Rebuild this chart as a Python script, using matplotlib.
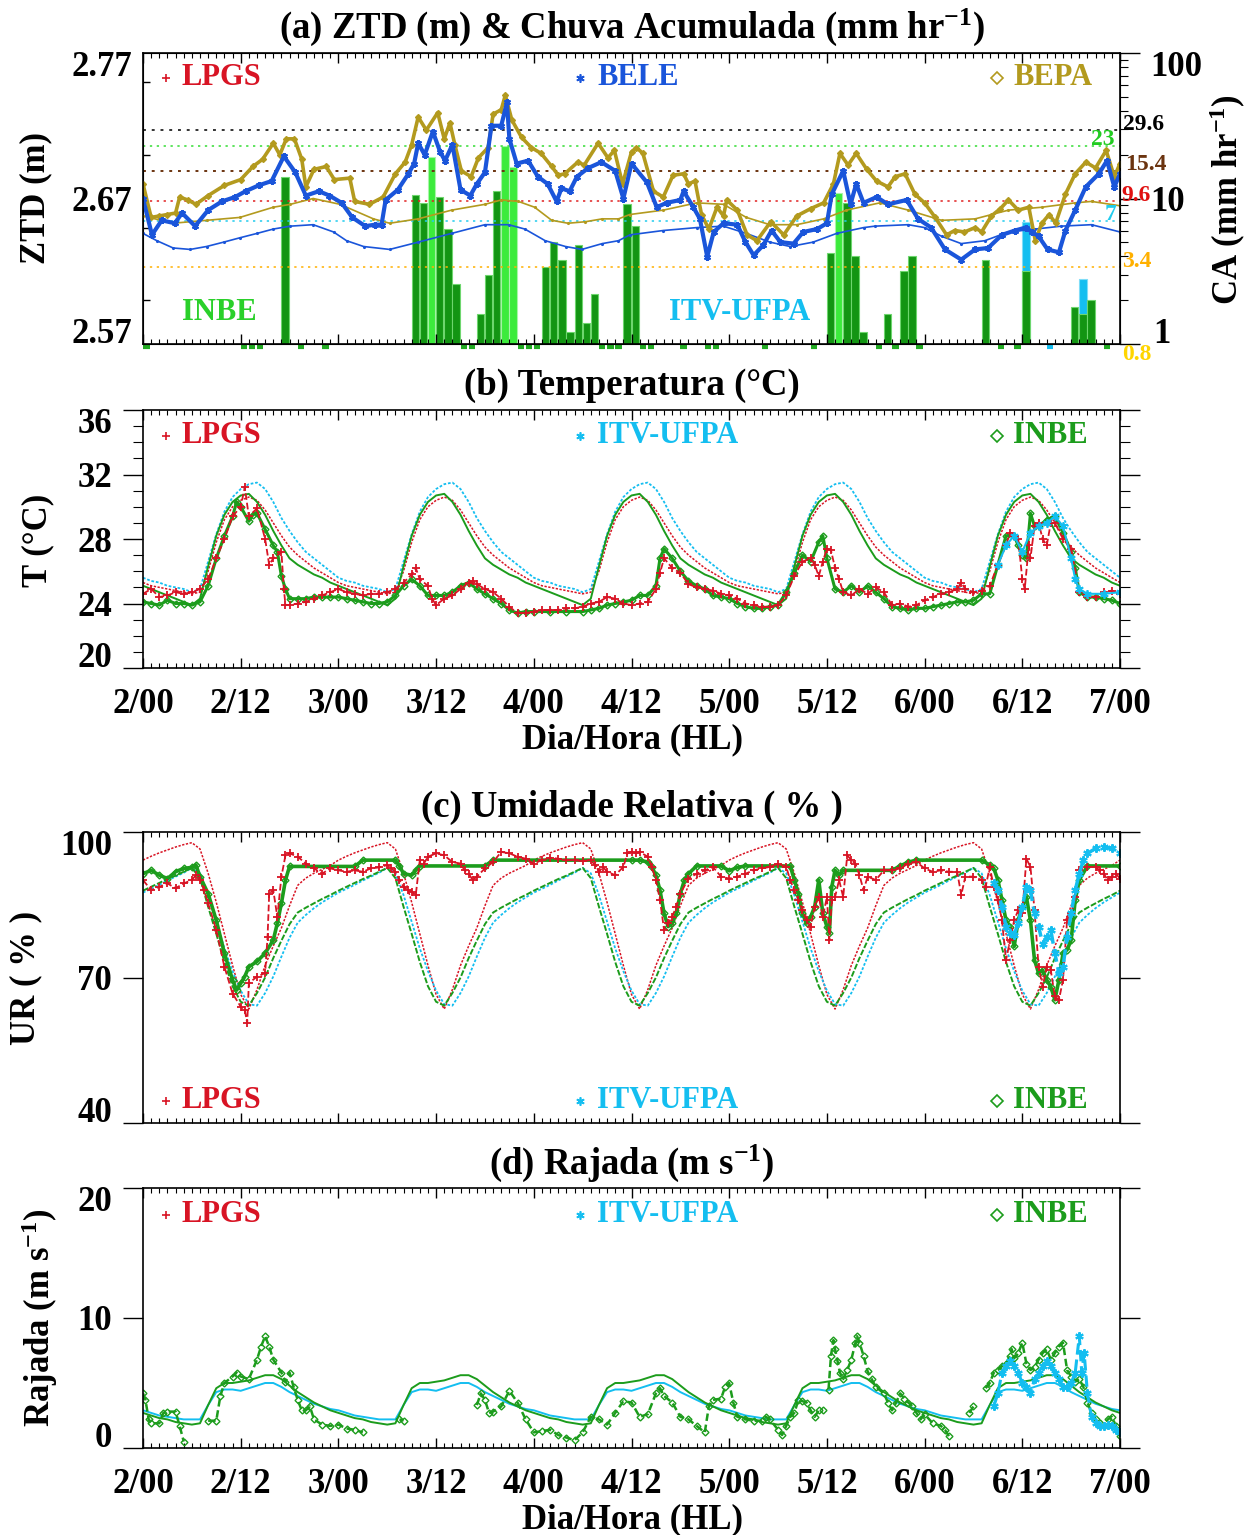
import numpy as np
import matplotlib
matplotlib.use('Agg')
import matplotlib.pyplot as plt
import matplotlib.transforms as mtransforms
from matplotlib.lines import Line2D
from matplotlib.ticker import MultipleLocator, FixedLocator, NullFormatter, LogLocator

plt.rcParams['font.family'] = ['Liberation Serif', 'DejaVu Serif']
plt.rcParams['font.weight'] = 'bold'
plt.rcParams['mathtext.fontset'] = 'custom'
plt.rcParams['mathtext.rm'] = 'Liberation Serif:bold'
plt.rcParams['mathtext.it'] = 'Liberation Serif:bold'
plt.rcParams['mathtext.bf'] = 'Liberation Serif:bold'
plt.rcParams['mathtext.default'] = 'rm'

# ---------------- dados ----------------
x_ticks = [0, 12, 24, 36, 48, 60, 72, 84, 96, 108, 120]
x_labels = ['2/00', '2/12', '3/00', '3/12', '4/00', '4/12', '5/00', '5/12', '6/00', '6/12', '7/00']

# (a) ZTD (m), horas desde 2/00
bepa_h = [0, 1, 2, 3, 4, 4.5, 5.5, 6.5, 8, 10, 12, 13.5, 14.7, 16, 16.8, 17.6, 18.6, 19.5, 20, 21, 22.5,
          23.5, 25.4, 26, 27.8, 29.5, 31, 32.2, 33, 33.8, 34.8, 36.2, 37, 37.7, 38.3, 39.1, 40.3, 41.2,
          42.4, 43, 44, 44.5, 45.3, 46.5, 47.7, 48.9, 50.2, 51, 51.8, 53.4, 54.2, 55.9, 57.1, 57.9, 58.9,
          60, 60.6, 61.4, 62.7, 63.9, 65.1, 66.4, 67, 67.8, 68.6, 69.5, 70.5, 71.3, 71.7, 73, 74.2, 75.4,
          77.1, 78.7, 80.3, 82, 83.6, 84.8, 85.6, 86.6, 87.6, 88.9, 90.1, 91.5, 92.4, 93.6, 94.8, 96,
          97.3, 98.7, 99.7, 100.9, 102.2, 103, 104.2, 105.3, 106.3, 107.5, 108.8, 109.6, 110.4, 111.3,
          112.1, 113.3, 114.5, 115.8, 117, 118.3, 119.3, 120]
bepa_ztd = [2.680, 2.657, 2.658, 2.659, 2.660, 2.671, 2.669, 2.666, 2.672, 2.679, 2.683, 2.692, 2.697,
            2.708, 2.700, 2.711, 2.711, 2.697, 2.678, 2.690, 2.692, 2.683, 2.684, 2.668, 2.666, 2.671,
            2.687, 2.695, 2.707, 2.726, 2.717, 2.729, 2.711, 2.722, 2.707, 2.689, 2.685, 2.698, 2.705,
            2.728, 2.731, 2.741, 2.724, 2.712, 2.705, 2.701, 2.692, 2.686, 2.687, 2.695, 2.693, 2.708,
            2.698, 2.703, 2.680, 2.702, 2.705, 2.701, 2.675, 2.671, 2.686, 2.687, 2.680, 2.682, 2.659,
            2.649, 2.664, 2.658, 2.669, 2.662, 2.645, 2.641, 2.654, 2.645, 2.658, 2.663, 2.667, 2.680,
            2.701, 2.693, 2.701, 2.690, 2.682, 2.678, 2.685, 2.687, 2.673, 2.667, 2.657, 2.645, 2.648,
            2.647, 2.650, 2.647, 2.658, 2.663, 2.669, 2.662, 2.664, 2.641, 2.653, 2.659, 2.653, 2.673,
            2.687, 2.695, 2.691, 2.703, 2.685, 2.694]

bele_h = [0, 1.1, 2.3, 3.9, 4.8, 6.4, 8, 9.7, 11.3, 12.6, 14.2, 15.8, 17.3, 18.7, 20, 21.6, 22.9, 24.4,
          25.7, 27.3, 28.5, 29.3, 29.8, 31.3, 32.6, 33.3, 33.8, 34.6, 35.6, 36.5, 37.1, 38, 39, 40.2, 41,
          42, 42.8, 44, 44.7, 45, 45.9, 47.3, 48.5, 49.7, 50.8, 51.4, 52.4, 53.3, 54.7, 56.3, 58, 59, 60,
          61.9, 63.1, 64.3, 66, 66.4, 67.6, 68.4, 69.3, 70.1, 71.3, 73, 74, 75, 76.2, 77.2, 78.3, 79.9,
          81.1, 82.8, 84, 84.6, 86, 86.9, 87.6, 88.5, 90.1, 91.5, 93.8, 95.2, 96.8, 98.5, 100.5, 102.2,
          103.8, 105.5, 107.1, 108.4, 109.2, 110, 111.1, 112.5, 113.3, 114.5, 115.8, 117.4, 118.4, 119.3, 120]
bele_ztd = [2.670, 2.645, 2.655, 2.653, 2.660, 2.651, 2.662, 2.668, 2.671, 2.675, 2.679, 2.682, 2.699,
            2.688, 2.672, 2.675, 2.672, 2.667, 2.657, 2.651, 2.652, 2.652, 2.669, 2.676, 2.687, 2.694,
            2.708, 2.700, 2.716, 2.702, 2.696, 2.707, 2.676, 2.672, 2.680, 2.688, 2.720, 2.720, 2.736,
            2.711, 2.694, 2.696, 2.685, 2.680, 2.668, 2.677, 2.675, 2.685, 2.691, 2.695, 2.689, 2.670,
            2.694, 2.681, 2.664, 2.667, 2.669, 2.675, 2.664, 2.656, 2.630, 2.647, 2.653, 2.652, 2.640,
            2.631, 2.638, 2.648, 2.640, 2.639, 2.647, 2.649, 2.653, 2.673, 2.689, 2.666, 2.680, 2.667,
            2.671, 2.666, 2.669, 2.656, 2.650, 2.635, 2.628, 2.635, 2.636, 2.645, 2.648, 2.650, 2.647,
            2.644, 2.635, 2.633, 2.648, 2.662, 2.678, 2.687, 2.696, 2.678, 2.687]

bepa_thin_h = [0, 3.7, 7.8, 11.9, 16, 18.1, 20.9, 24.2, 28.3, 30.3, 33.8, 37.9, 42, 44, 46.1, 48.1, 50.2,
               52.2, 54.3, 56.4, 58.4, 59.8, 63.9, 68, 71.3, 74.1, 77, 80.3, 83.6, 86.4, 90.5, 94, 98.1,
               102.2, 106.3, 110.4, 114.5, 116.5, 120]
bepa_thin = [2.658, 2.653, 2.655, 2.657, 2.664, 2.666, 2.670, 2.666, 2.656, 2.653, 2.656, 2.662, 2.666,
             2.669, 2.668, 2.664, 2.655, 2.653, 2.654, 2.656, 2.656, 2.659, 2.662, 2.667, 2.666, 2.657,
             2.652, 2.652, 2.656, 2.662, 2.667, 2.662, 2.655, 2.656, 2.662, 2.664, 2.667, 2.668, 2.665]

bele_thin_h = [0, 1.7, 3.7, 5.8, 7.8, 9.9, 11.9, 14, 16, 18.1, 20.9, 23.4, 25, 27.1, 30.3, 33.8, 37.9, 42,
               44.9, 46.9, 49.4, 51.9, 53.9, 56.4, 58.4, 59.8, 63.9, 68, 71.3, 74.1, 77, 79.5, 82.3, 85.2,
               88.5, 89.9, 94, 96, 98.1, 100.5, 103.4, 106.3, 109.6, 112.8, 116.5, 120]
bele_thin = [2.646, 2.641, 2.636, 2.635, 2.637, 2.640, 2.643, 2.646, 2.649, 2.651, 2.652, 2.647, 2.641,
             2.637, 2.635, 2.640, 2.646, 2.652, 2.652, 2.649, 2.641, 2.637, 2.635, 2.639, 2.641, 2.645,
             2.648, 2.650, 2.651, 2.646, 2.640, 2.637, 2.640, 2.646, 2.650, 2.651, 2.652, 2.650, 2.644,
             2.639, 2.641, 2.647, 2.649, 2.651, 2.652, 2.647]

# (a) chuva acumulada (mm/hr), barras horarias
rain_inbe_h = [17, 33, 34, 36, 37, 38, 41, 42, 43, 49, 50, 51, 52, 53, 54, 55, 59, 60, 84, 86, 87, 88,
               91, 93, 94, 103, 108, 114, 115, 116]
rain_inbe = [14, 10.6, 9.3, 10.3, 6.2, 2.6, 1.6, 3.0, 11.3, 3.4, 5.0, 3.8, 1.2, 4.8, 1.4, 2.2, 9.2, 6.5,
             4.2, 9.3, 4.0, 1.2, 1.6, 3.2, 4.0, 3.8, 3.2, 1.8, 1.6, 2.0]
rain_lime_h = [35, 44, 45, 85]
rain_lime = [19.2, 23, 16.4, 10.9]
rain_itv_h = [108, 115]
rain_itv = [6.9, 2.8]
trace_inbe_h = [0, 12, 13, 14, 19, 22, 39, 40, 46, 47, 48, 56, 57, 58, 61, 62, 66, 69, 70, 76, 82, 90,
                92, 95, 105, 107, 118]
trace_itv_h = [111]

ca_levels = [29.6, 23, 15.4, 9.6, 7, 3.4]
ca_level_labels = ['29.6', '23', '15.4', '9.6', '7', '3.4', '0.8']

# ciclo diario (0..23 h) das curvas finas; repete-se igual nos 5 dias
t_cyc_itv = [25.6, 25.4, 25.3, 25.1, 25.0, 24.9, 24.7, 24.9, 26.6, 28.3, 29.7, 30.6, 31.1, 31.4, 31.5,
             31.1, 30.3, 29.3, 28.5, 27.8, 27.2, 26.8, 26.4, 26.0]
t_cyc_lpgs = [25.3, 25.1, 25.0, 24.9, 24.8, 24.7, 24.6, 24.7, 26.0, 27.8, 29.2, 30.0, 30.4, 30.6, 30.4,
              29.8, 29.0, 28.2, 27.5, 27.0, 26.6, 26.2, 25.9, 25.6]
t_cyc_inbe = [25.1, 24.9, 24.7, 24.5, 24.3, 24.1, 23.9, 24.3, 26.3, 28.2, 29.5, 30.3, 30.7, 30.8, 30.3,
              29.5, 28.5, 27.6, 26.8, 26.4, 26.1, 25.8, 25.6, 25.3]
ur_cyc_lpgs = [94.2, 95.0, 95.7, 96.3, 96.9, 97.4, 97.8, 96.5, 91.5, 85.5, 79.0, 72.5, 66.5, 63.5, 67.5,
               72.5, 76.5, 80.2, 84.8, 89.0, 90.5, 91.5, 92.3, 93.1]
ur_cyc_inbe = [87.9, 88.7, 89.5, 90.3, 91.0, 91.8, 92.6, 90.5, 84.6, 79.0, 73.2, 68.2, 65.0, 64.2, 66.8,
               70.0, 74.0, 77.6, 81.0, 83.4, 84.4, 85.3, 86.2, 87.0]
ur_cyc_itv = [87.5, 88.3, 89.1, 90.0, 90.8, 91.6, 92.6, 91.5, 87.0, 81.5, 76.0, 71.3, 67.3, 64.5, 64.2,
              66.8, 70.2, 74.3, 78.2, 81.3, 82.9, 84.3, 85.5, 86.5]
raj_cyc_inbe = [2.7, 2.5, 2.3, 2.2, 2.0, 1.9, 1.8, 1.9, 3.3, 4.6, 5.0, 5.0, 5.1, 5.2, 5.4, 5.6, 5.6, 5.3,
                4.8, 4.3, 3.9, 3.5, 3.2, 2.9]
raj_cyc_itv = [2.9, 2.7, 2.5, 2.4, 2.3, 2.2, 2.2, 2.2, 3.3, 4.3, 4.5, 4.5, 4.4, 4.6, 4.8, 5.0, 5.0, 4.7,
               4.3, 4.0, 3.7, 3.4, 3.2, 3.0]

# (b) temperatura observada
t_lpgs_h = [0, 1, 2, 3, 4, 5, 6, 7, 8, 9, 10, 11, 12, 12.5, 13, 14, 15, 15.5, 16, 17, 17.3, 17.5, 18, 19,
            20, 21, 22, 23, 24, 25, 26, 27, 28, 29, 30, 31, 32, 33, 33.5, 34, 35, 35.5, 36, 37, 38, 39, 40,
            40.5, 41, 42, 43, 44, 45, 46, 47, 48, 49, 50, 51, 52, 53, 54, 55, 56, 57, 58, 59, 60, 61, 62,
            63, 63.5, 64, 65, 66, 67, 68, 69, 70, 71, 72, 73, 74, 75, 76, 77, 78, 79, 80, 81, 82, 82.5, 83,
            83.5, 84, 84.5, 85, 85.5, 86, 87, 88, 89, 90, 91, 92, 93, 94, 95, 96, 97, 98, 99, 100, 100.5,
            101, 102, 103, 104, 105, 106, 106.5, 107, 107.5, 108, 108.3, 108.8, 109, 109.5, 110, 110.5,
            111, 111.5, 112, 113, 114, 115, 116, 117, 118, 119, 120]
t_lpgs = [24.6, 24.9, 24.4, 24.5, 24.7, 24.6, 24.7, 24.9, 25.5, 26.8, 28.0, 29.4, 30.0, 31.2, 29.4, 29.9,
          28.0, 26.4, 26.8, 27.2, 24.9, 23.9, 23.9, 24.0, 24.1, 24.3, 24.5, 24.7, 24.9, 24.7, 24.6, 24.5,
          24.6, 24.6, 24.7, 24.9, 25.3, 25.8, 26.2, 25.5, 25.1, 24.3, 23.9, 24.3, 24.5, 24.9, 25.3, 25.4,
          25.2, 24.9, 24.7, 24.3, 23.8, 23.4, 23.4, 23.5, 23.6, 23.6, 23.6, 23.7, 23.7, 23.8, 24.0, 24.1,
          24.4, 24.3, 24.0, 23.9, 24.0, 24.1, 24.9, 25.9, 26.8, 26.2, 25.9, 25.2, 25.0, 24.9, 24.8, 24.6,
          24.5, 24.3, 24.0, 23.9, 23.8, 23.8, 23.9, 24.5, 25.7, 26.6, 26.8, 26.4, 25.7, 26.6, 27.4, 27.3,
          26.2, 25.5, 24.7, 24.5, 24.9, 24.6, 25.0, 24.7, 23.9, 24.0, 23.8, 23.9, 24.2, 24.4, 24.6, 24.7,
          24.9, 25.3, 24.9, 24.7, 24.8, 25.1, 26.4, 27.6, 28.4, 28.2, 28.0, 25.5, 24.9, 27.6, 26.8, 28.8,
          29.0, 28.0, 27.6, 29.0, 29.0, 28.0, 27.4, 24.7, 24.4, 24.4, 24.7, 24.8, 24.6]

t_inbe_h = [0, 1, 2, 3, 4, 5, 6, 7, 8, 9, 10, 11, 11.5, 12, 13, 13.5, 14, 15, 16, 16.5, 17, 17.5, 18, 19,
            20, 21, 22, 23, 24, 25, 26, 27, 28, 29, 30, 31, 32, 33, 34, 35, 36, 37, 38, 39, 40, 41, 42, 43,
            44, 45, 46, 47, 48, 50, 52, 54, 55, 56, 57, 58, 59, 60, 61, 62, 63, 63.5, 64, 65, 66, 67, 68,
            69, 70, 71, 72, 73, 74, 75, 76, 77, 78, 79, 80, 81, 82, 83, 83.5, 84, 85, 86, 87, 88, 89, 90,
            91, 92, 93, 94, 95, 96, 97, 98, 99, 100, 101, 102, 103, 104, 105, 106, 107, 107.5, 108, 108.5,
            109, 109.5, 110, 111, 112, 113, 114, 114.5, 115, 116, 117, 118, 119, 120]
t_inbe = [24.1, 24.0, 23.9, 24.2, 24.0, 24.0, 23.9, 24.1, 25.1, 26.8, 28.2, 29.4, 30.3, 30.0, 29.1, 29.5,
          29.6, 28.6, 27.6, 27.2, 25.7, 24.9, 24.3, 24.3, 24.3, 24.4, 24.4, 24.4, 24.4, 24.3, 24.2, 24.1,
          24.0, 24.0, 24.1, 24.5, 25.1, 25.5, 25.1, 24.5, 24.5, 24.5, 24.7, 25.1, 25.3, 24.9, 24.6, 24.3,
          24.0, 23.6, 23.4, 23.5, 23.5, 23.5, 23.5, 23.5, 23.6, 23.7, 23.9, 24.0, 24.1, 24.2, 24.5, 24.5,
          25.1, 26.8, 27.4, 26.8, 26.0, 25.4, 25.1, 24.9, 24.5, 24.4, 24.3, 24.0, 23.8, 23.7, 23.7, 23.8,
          23.9, 24.7, 25.9, 27.0, 26.6, 27.8, 28.2, 26.8, 24.9, 24.7, 25.1, 24.7, 25.1, 24.7, 24.3, 23.8,
          23.7, 23.6, 23.7, 23.7, 23.8, 23.9, 24.0, 24.1, 24.1, 24.2, 24.6, 24.6, 26.4, 28.2, 28.2, 27.6,
          27.0, 26.8, 29.6, 28.8, 28.8, 29.2, 29.4, 28.4, 27.2, 26.2, 24.7, 24.4, 24.4, 24.3, 24.2, 24.0]

t_itv_h = [105, 106, 107, 108, 109, 110, 111, 112, 113, 114, 114.5, 115, 116, 118, 120]
t_itv = [26.4, 27.6, 28.2, 27.2, 28.4, 28.8, 29.0, 29.4, 28.8, 26.8, 25.5, 24.9, 24.6, 24.6, 24.7]

# (c) umidade relativa observada
ur_lpgs_h = [0, 1, 2, 3, 4, 5, 6, 6.5, 7, 7.5, 8, 9, 10, 11, 12, 12.5, 12.8, 13, 14, 15, 15.3, 15.5, 16,
             16.5, 17, 17.5, 18, 19, 20, 21, 22, 23, 24, 25, 26, 27, 28, 29, 30, 30.5, 31, 31.5, 32, 32.5,
             33, 33.5, 34, 34.5, 35, 36, 37, 38, 39, 39.5, 40, 40.5, 41, 42, 43, 44, 45, 46, 47, 48, 49,
             50, 51, 52, 53, 54, 55, 55.5, 56, 56.5, 57, 58, 59, 59.5, 60, 60.5, 61, 62, 62.5, 63, 63.5,
             64, 64.5, 65, 65.5, 66, 67, 68, 69, 70, 71, 72, 73, 74, 75, 76, 77, 78, 79, 79.5, 80, 80.5,
             81, 81.5, 82, 82.5, 83, 83.5, 84, 84.3, 84.6, 85, 85.5, 86, 86.5, 87, 87.5, 88, 88.5, 89, 90,
             91, 92, 93, 94, 95, 96, 97, 98, 99, 100, 100.5, 101, 102, 103, 103.5, 104, 104.5, 105, 105.5,
             106, 106.5, 107, 107.5, 108, 108.5, 109, 109.5, 110, 110.5, 111, 111.5, 112, 112.5, 113,
             113.5, 114, 114.5, 115, 116, 117, 117.5, 118, 118.5, 119, 119.5, 120]
ur_lpgs = [90.1, 88.0, 88.7, 89.4, 88.4, 89.4, 90.1, 91.1, 90.1, 88.0, 85.3, 79.8, 72.2, 66.7, 64.0, 63.3,
           60.6, 68.8, 70.2, 70.9, 78.4, 87.3, 88.0, 82.5, 90.8, 95.2, 95.6, 94.9, 93.5, 92.5, 91.4, 92.5,
           92.1, 91.8, 92.1, 91.8, 92.5, 92.7, 93.2, 92.5, 91.8, 90.1, 88.7, 88.0, 87.7, 87.0, 94.2, 93.5,
           94.9, 95.6, 95.2, 93.8, 93.5, 92.1, 91.4, 90.1, 90.8, 92.5, 93.8, 95.9, 95.6, 94.9, 94.5, 93.5,
           94.2, 94.7, 94.5, 94.2, 94.2, 94.0, 94.2, 93.2, 91.8, 92.8, 91.8, 91.1, 92.8, 95.6, 95.9, 95.6,
           95.9, 94.9, 92.8, 90.1, 86.0, 79.8, 81.2, 82.5, 84.6, 87.3, 90.4, 91.4, 92.1, 92.8, 90.8, 90.4,
           90.8, 91.4, 92.1, 92.5, 92.8, 93.5, 92.8, 90.1, 88.0, 86.0, 83.9, 81.8, 80.5, 84.6, 86.6, 82.5,
           86.6, 77.7, 86.0, 86.6, 90.1, 86.6, 95.2, 94.2, 93.5, 91.1, 88.0, 90.8, 90.1, 92.1, 92.1, 92.5,
           93.5, 93.8, 92.5, 91.8, 92.1, 91.8, 91.8, 87.0, 90.8, 90.8, 90.1, 88.7, 92.8, 88.7, 86.0, 81.8,
           73.6, 77.7, 81.8, 83.9, 83.2, 94.5, 92.8, 83.9, 72.2, 68.1, 72.2, 71.5, 66.1, 65.4, 69.5, 81.8,
           83.2, 86.6, 92.1, 92.8, 92.8, 92.1, 91.4, 90.1, 90.8, 91.4, 90.4]

ur_inbe_h = [0, 1, 2, 3, 4, 5, 6, 6.5, 7, 8, 9, 10, 11, 11.5, 12, 12.5, 13, 14, 15, 16, 16.5, 17, 17.5,
             18, 26, 27, 31, 31.5, 32, 33, 33.5, 34, 42, 43, 60, 61, 62, 62.5, 63, 63.5, 64, 64.5, 65,
             65.5, 66, 66.5, 67, 68, 71, 72, 73, 74, 79.5, 80, 80.5, 81, 81.5, 82, 82.5, 83, 83.5, 84,
             84.3, 84.6, 85, 85.5, 86, 92, 93, 94, 95, 103, 104, 104.5, 105, 105.5, 106, 106.5, 107,
             107.5, 108, 108.5, 109, 109.5, 110, 110.5, 111, 111.5, 112, 112.5, 113, 113.5, 114, 114.5,
             115, 116, 120]
ur_inbe = [91.4, 92.1, 91.1, 90.4, 91.8, 92.5, 92.7, 93.2, 90.8, 87.3, 81.8, 75.0, 69.5, 67.4, 68.8, 70.2,
           72.2, 73.3, 75.0, 77.7, 81.2, 85.3, 90.1, 92.9, 92.9, 94.2, 94.2, 93.0, 91.4, 91.1, 92.1, 93.0,
           93.0, 94.2, 94.2, 94.2, 93.8, 92.8, 91.1, 88.0, 83.2, 80.5, 81.2, 83.2, 87.3, 90.1, 91.4, 93.0,
           93.0, 92.0, 92.7, 93.0, 93.0, 90.1, 87.3, 83.2, 81.2, 82.5, 84.6, 90.1, 83.2, 80.5, 79.1, 88.7,
           92.1, 91.1, 92.1, 92.1, 93.0, 93.8, 94.2, 94.2, 93.2, 92.5, 90.1, 86.0, 81.8, 80.5, 76.4, 81.8,
           84.6, 86.6, 81.8, 73.6, 70.9, 71.5, 69.5, 68.1, 65.4, 69.5, 75.0, 75.7, 77.7, 86.0, 90.1, 93.0,
           93.0]

ur_itv_h = [104.5, 105, 105.5, 106, 106.5, 107, 107.5, 108, 108.5, 109, 109.5, 110, 110.5, 111, 111.5,
            112, 112.5, 113, 113.5, 114, 114.5, 115, 115.5, 116, 117, 118, 119, 120]
ur_itv = [89.4, 88.0, 84.6, 80.5, 79.1, 78.8, 81.2, 84.6, 88.7, 88.0, 83.2, 80.5, 77.0, 78.4, 79.8, 75.0,
          70.9, 72.2, 78.4, 83.2, 88.0, 91.4, 94.2, 95.6, 96.6, 96.9, 96.6, 95.6]

# (d) rajada observada (nan = falha)
raj_inbe_h = [0, 0.3, 0.7, 1, 2, 2.5, 3, 4, 4.5, 5, 6.5, 8, 9, 9.5, 10, 11, 11.5, 12, 13, 14, 14.5, 15,
              15.5, 16, 17, 17.5, 18, 18.5, 19, 19.5, 20, 20.5, 21, 22, 23, 24, 25, 26, 27, 29, 31.5, 32,
              35, 41, 41.5, 42, 42.5, 43, 44, 45, 46, 47, 48, 49, 50, 51, 52, 53, 54, 55, 56, 57, 58, 59,
              60, 61, 62, 63, 63.5, 64, 65, 66, 67, 68, 69, 69.5, 70, 71, 71.5, 72, 72.5, 73, 74, 75, 76,
              76.5, 77, 78, 78.5, 79, 79.5, 80, 80.5, 81, 81.5, 82, 82.5, 83, 83.5, 84, 84.2, 84.5, 84.8,
              85, 85.3, 85.6, 86, 86.5, 87, 87.5, 87.7, 88, 88.5, 89, 89.5, 90, 91, 91.5, 92, 92.5, 93,
              93.5, 94, 94.5, 95, 95.5, 96, 97, 98, 98.5, 99, 100, 101.5, 102, 102.5, 103.5, 104, 104.5,
              105, 105.5, 106, 106.5, 106.7, 107, 107.5, 108, 108.5, 109, 109.5, 110, 110.5, 111, 111.5,
              112, 112.5, 113, 113.5, 114, 114.5, 115, 115.5, 116, 116.5, 117, 117.5, 118, 118.5, 119,
              119.5, 120]
raj_inbe = [4.2, 3.7, 2.2, 1.9, 1.9, 2.7, 2.8, 2.8, 1.7, 0.5, np.nan, 2.1, 2.1, 4.0, 5.0, 5.5, 5.8, 5.5,
            5.3, 6.8, 7.8, 8.6, 7.8, 6.8, 5.8, 5.1, 5.8, 4.7, 3.7, 2.9, 2.9, 3.2, 2.2, 1.8, 1.7, 1.8, 1.5,
            1.4, 1.2, np.nan, 2.2, 2.1, np.nan, 3.3, 4.2, 3.7, 2.7, 2.8, 3.2, 4.4, 3.5, 2.2, 1.2, 1.3,
            1.4, 1.0, 0.8, 0.6, 1.2, 2.4, 2.2, 1.8, 2.7, 3.6, 3.5, 2.4, 2.6, 4.2, 4.6, 4.0, 3.5, 2.4, 2.2,
            1.7, 1.2, 3.2, 3.7, 3.8, 4.7, 5.0, 3.5, 2.4, 2.2, 2.1, 2.1, 2.4, 2.2, 1.4, 1.0, 1.7, 2.4, 2.7,
            3.7, 3.6, 3.5, 2.9, 2.4, 2.9, 2.9, np.nan, 4.5, 7.1, 8.3, 7.6, 6.7, 5.8, 5.3, 6.0, 6.8, 8.1,
            8.6, 8.1, 7.1, 5.9, 5.3, 4.7, 4.2, 3.5, 2.9, 3.5, 4.2, 3.8, 3.5, 3.2, 2.7, 2.2, 2.6, 1.9, 1.7,
            1.4, 0.9, np.nan, 2.7, 3.2, np.nan, 4.6, 5.0, 5.8, 6.0, 6.3, 6.5, 7.1, 7.6, 6.9, 7.3, 8.1,
            6.5, 6.0, 6.2, 6.8, 7.3, 7.6, 6.8, 7.3, 7.8, 8.1, 6.0, 5.5, 5.1, 5.3, 4.7, 3.5, 2.7, 2.2,
            1.9, 1.7, 2.2, 2.4, 1.7, 0.9]

raj_itv_h = [104.5, 105, 105.5, 106, 106.5, 107, 107.5, 108, 108.5, 109, 109.5, 110, 110.5, 111, 111.5,
             112, 112.5, 113, 113.5, 114, 114.5, 115, 115.3, 115.6, 116, 116.5, 117, 117.5, 118, 118.5,
             119, 119.5, 120]
raj_itv = [3.2, 4.2, 5.8, 6.3, 6.7, 6.3, 5.8, 5.0, 4.7, 4.2, 5.3, 5.8, 6.3, 6.7, 6.3, 5.8, 5.3, 4.7, 4.7,
           5.0, 5.8, 8.6, 5.8, 7.3, 4.2, 2.4, 1.9, 1.7, 1.7, 1.8, 1.7, 1.4, 1.2]

# ---------------- estilo ----------------
RED = '#D81424'
BLUE = '#1A55DA'
GOLD = '#B39A1E'
CYAN = '#14BEF0'
GREEN = '#1C9C1C'
LIME = '#2AD02A'
W, H = 1255, 1535
X0, X1 = 143, 1120

hours = np.arange(121)


def daily(cycle):
    # mesma curva diaria em todos os dias (2/00 a 7/00)
    return np.concatenate([np.tile(cycle, 5), cycle[:1]])


fig = plt.figure(figsize=(W / 100, H / 100), dpi=100)


def add_axes(top, bottom):
    return fig.add_axes([X0 / W, 1 - bottom / H, (X1 - X0) / W, (bottom - top) / H])


def ftext(x, y, s, color='black', size=24, ha='left', va='baseline', **kw):
    fig.text(x / W, 1 - y / H, s, color=color, fontsize=size, ha=ha, va=va, fontweight='bold', **kw)


def fmark(x, y, marker, color, ms, open_=False):
    fig.add_artist(Line2D([x / W], [1 - y / H], transform=fig.transFigure, marker=marker, color=color,
                          ms=ms, mfc='none' if open_ else color, mew=1.2, ls='none'))


def time_axis(ax, top, bottom, labels):
    ax.set_xlim(0, 120)
    ax.xaxis.set_major_locator(FixedLocator(x_ticks))
    ax.xaxis.set_minor_locator(MultipleLocator(1))
    ax.tick_params(axis='x', which='both', direction='in', top=True, bottom=True, labelbottom=False)
    ax.tick_params(axis='x', which='major', length=7, width=1)
    ax.tick_params(axis='x', which='minor', length=3.5, width=0.8)
    for s in ax.spines.values():
        s.set_linewidth(1.2)
    if labels:
        for t, lab in zip(x_ticks, x_labels):
            x = X0 + t * (X1 - X0) / 120
            ftext(x, bottom + 45, lab, ha='center', size=25)
        ftext(632, bottom + 80, 'Dia/Hora (HL)', ha='center', size=25)


def y_labels(ax, vals, texts, xpix, top, bottom, lo, hi):
    for v, t in zip(vals, texts):
        ypix = bottom - (v - lo) / (hi - lo) * (bottom - top)
        if v == hi:
            ftext(xpix, ypix - 2, t, ha='right', va='top', size=25)
        elif v == lo:
            ftext(xpix, ypix - 1, t, ha='right', va='baseline', size=25)
        else:
            ftext(xpix, ypix, t, ha='right', va='center_baseline', size=25)


def out_yticks(ax, major, minor=None):
    ax.yaxis.set_major_locator(FixedLocator(major))
    if minor is not None:
        ax.yaxis.set_minor_locator(MultipleLocator(minor))
    ax.tick_params(axis='y', which='both', direction='out', left=True, right=True,
                   labelleft=False, labelright=False)
    ax.tick_params(axis='y', which='major', length=14.5, width=1)
    ax.tick_params(axis='y', which='minor', length=7, width=0.8)


def legend3(base_y, items):
    # items: (marker_x, text_x, texto, cor, marcador, aberto)
    for mx, tx, s, c, m, op in items:
        fmark(mx, base_y - 7, m, c, 6, op)
        ftext(tx, base_y, s, color=c, size=22)


AST = (6, 2, 0)
TSIZE = 26.5

# ---------------- (a) ZTD & chuva ----------------
top, bot = 53, 344
ax_a = add_axes(top, bot)
ax_a.set_ylim(2.57, 2.77)
ax_ca = ax_a.twinx()
ax_ca.set_yscale('log')
ax_ca.set_ylim(1, 100)
ax_a.set_zorder(ax_ca.get_zorder() + 1)
ax_a.patch.set_visible(False)

ax_ca.bar(rain_itv_h, np.array(rain_itv) - 0.1, bottom=0.1, width=0.9, align='edge',
          color=CYAN, edgecolor='#7FDDF8', lw=0.8)
ax_ca.bar(rain_lime_h, np.array(rain_lime) - 0.1, bottom=0.1, width=0.9, align='edge',
          color='#3CEB3C', edgecolor='#A8F5A8', lw=0.8)
ax_ca.bar(rain_inbe_h, np.array(rain_inbe) - 0.1, bottom=0.1, width=0.9, align='edge',
          color='#139513', edgecolor='#6ED66E', lw=0.8)

lev_colors = ['#333333', '#33DD33', '#6B3410', '#E02020', '#22CCEE', '#FFB000']
for v, c in zip(ca_levels, lev_colors):
    ax_ca.axhline(v, color=c, ls=(0, (1.5, 3)), lw=1.4 if c in ('#333333', '#6B3410') else 1.1)

tr = mtransforms.blended_transform_factory(ax_ca.transData, ax_ca.transAxes)
for h in trace_inbe_h:
    ax_ca.plot([h, h + 0.8], [-0.01, -0.01], transform=tr, color='#22AA22', lw=3,
               solid_capstyle='butt', clip_on=False)
for h in trace_itv_h:
    ax_ca.plot([h, h + 0.8], [-0.01, -0.01], transform=tr, color=CYAN, lw=3,
               solid_capstyle='butt', clip_on=False)

ax_a.plot(bepa_thin_h, bepa_thin, color=GOLD, lw=1.2, marker='.', ms=2.5)
ax_a.plot(bele_thin_h, bele_thin, color=BLUE, lw=1.2, marker='.', ms=2.5)
ax_a.plot(bepa_h, bepa_ztd, color=GOLD, lw=2.6, marker='D', ms=3)
ax_a.plot(bele_h, bele_ztd, color=BLUE, lw=3.0, marker=AST, ms=5, mew=1.5)

time_axis(ax_a, top, bot, False)
ax_a.yaxis.set_major_locator(MultipleLocator(0.05))
ax_a.tick_params(axis='y', which='major', direction='in', length=5, width=1, left=True,
                 right=False, labelleft=False)
ax_ca.yaxis.set_major_locator(LogLocator(base=10))
ax_ca.yaxis.set_minor_locator(LogLocator(base=10, subs=np.arange(2, 10)))
ax_ca.yaxis.set_major_formatter(NullFormatter())
ax_ca.yaxis.set_minor_formatter(NullFormatter())
ax_ca.tick_params(axis='y', which='major', direction='out', length=14.5, width=1)
ax_ca.tick_params(axis='y', which='minor', direction='out', length=6, width=0.8)

y_labels(ax_a, [2.57, 2.67, 2.77], ['2.57', '2.67', '2.77'], 132, top, bot, 2.57, 2.77)
ftext(1150, top - 2, '100', va='top', size=25)
ftext(1150, (top + bot) / 2, '10', va='center_baseline', size=25)
ftext(1153, bot - 1, '1', va='baseline', size=25)

lab_pos = [(1123, 122, 'left'), (1114, 137, 'right'), (1125, 162, 'left'), (1121, 193, 'left'),
           (1116, 212, 'right'), (1122, 259, 'left'), (1122, 352, 'left')]
lab_cols = ['black', '#22CC22', '#6B3410', '#E01010', '#22CCEE', '#FFB000', '#FFD500']
for (x, y, ha), s, c in zip(lab_pos, ca_level_labels, lab_cols):
    ftext(x, y, s, color=c, size=17, ha=ha, va='center_baseline')

ftext(632, 38, r'(a) ZTD (m) & Chuva Acumulada (mm hr$^{-1}$)', ha='center', size=TSIZE)
ftext(36, 198, 'ZTD (m)', ha='center', va='center', size=25, rotation=90)
ftext(1228, 200, r'CA (mm hr$^{-1}$)', ha='center', va='center', size=25, rotation=90)
legend3(85, [(166, 181, 'LPGS', RED, '+', False), (580, 597, 'BELE', BLUE, AST, False),
             (997, 1013, 'BEPA', GOLD, 'D', True)])
ftext(182, 320, 'INBE', color=LIME, size=22)
ftext(669, 320, 'ITV-UFPA', color=CYAN, size=22)

# ---------------- (b) temperatura ----------------
top, bot = 410, 668
ax_b = add_axes(top, bot)
ax_b.set_ylim(20, 36)
ax_b.plot(hours, daily(t_cyc_itv), color=CYAN, lw=1.3, ls=(0, (1.5, 1)))
ax_b.plot(hours, daily(t_cyc_lpgs), color=RED, lw=1.1, ls=(0, (1.5, 1)))
ax_b.plot(hours, daily(t_cyc_inbe), color=GREEN, lw=1.4)
ax_b.plot(t_inbe_h, t_inbe, color=GREEN, lw=2.2, marker='D', ms=3.5, mfc='none', mew=1)
ax_b.plot(t_lpgs_h, t_lpgs, color=RED, lw=1.3, ls='--', marker='+', ms=6, mew=1.3)
ax_b.plot(t_itv_h, t_itv, color=CYAN, lw=1.5, marker=AST, ms=6, mew=1.3)
time_axis(ax_b, top, bot, True)
out_yticks(ax_b, [20, 24, 28, 32, 36], 1)
y_labels(ax_b, [20, 24, 28, 32, 36], ['20', '24', '28', '32', '36'], 112, top, bot, 20, 36)
ftext(632, 395, '(b) Temperatura (°C)', ha='center', size=TSIZE)
ftext(38, 540, 'T (°C)', ha='center', va='center', size=25, rotation=90)
legend3(443, [(166, 181, 'LPGS', RED, '+', False), (580, 597, 'ITV-UFPA', CYAN, AST, False),
              (997, 1013, 'INBE', GREEN, 'D', True)])

# ---------------- (c) umidade relativa ----------------
top, bot = 832, 1123
ax_c = add_axes(top, bot)
ax_c.set_ylim(40, 100)
ax_c.plot(hours, daily(ur_cyc_lpgs), color=RED, lw=1.1, ls=(0, (1.5, 1)))
ax_c.plot(hours, daily(ur_cyc_itv), color=CYAN, lw=1.3, ls=(0, (1.5, 1)))
ax_c.plot(hours, daily(ur_cyc_inbe), color=GREEN, lw=1.4, ls=(0, (3, 1)))
ax_c.plot(ur_inbe_h, ur_inbe, color=GREEN, lw=2.6, marker='D', ms=3.5, mfc='none', mew=1)
ax_c.plot(ur_lpgs_h, ur_lpgs, color=RED, lw=1.3, ls='--', marker='+', ms=6, mew=1.3)
ax_c.plot(ur_itv_h, ur_itv, color=CYAN, lw=2.5, ls='--', marker=AST, ms=6, mew=1.5)
time_axis(ax_c, top, bot, False)
out_yticks(ax_c, [40, 70, 100])
y_labels(ax_c, [40, 70, 100], ['40', '70', '100'], 112, top, bot, 40, 100)
ftext(632, 817, '(c) Umidade Relativa ( % )', ha='center', size=TSIZE)
ftext(26, 978, 'UR ( % )', ha='center', va='center', size=25, rotation=90)
legend3(1108, [(166, 181, 'LPGS', RED, '+', False), (580, 597, 'ITV-UFPA', CYAN, AST, False),
               (997, 1013, 'INBE', GREEN, 'D', True)])

# ---------------- (d) rajada ----------------
top, bot = 1188, 1448
ax_d = add_axes(top, bot)
ax_d.set_ylim(0, 20)
ax_d.plot(hours, daily(raj_cyc_itv), color=CYAN, lw=1.4)
ax_d.plot(hours, daily(raj_cyc_inbe), color=GREEN, lw=1.4)
ax_d.plot(raj_inbe_h, raj_inbe, color=GREEN, lw=1.8, ls=(0, (3, 1.5)), marker='D', ms=3.5,
          mfc='none', mew=1)
ax_d.plot(raj_itv_h, raj_itv, color=CYAN, lw=2.2, ls='--', marker=AST, ms=6, mew=1.5)
time_axis(ax_d, top, bot, True)
out_yticks(ax_d, [0, 10, 20])
y_labels(ax_d, [0, 10, 20], ['0', '10', '20'], 112, top, bot, 0, 20)
ftext(632, 1174, r'(d) Rajada (m s$^{-1}$)', ha='center', size=TSIZE)
ftext(40, 1318, r'Rajada (m s$^{-1}$)', ha='center', va='center', size=25, rotation=90)
legend3(1222, [(166, 181, 'LPGS', RED, '+', False), (580, 597, 'ITV-UFPA', CYAN, AST, False),
               (997, 1013, 'INBE', GREEN, 'D', True)])

fig.savefig('out.png', dpi=100)
